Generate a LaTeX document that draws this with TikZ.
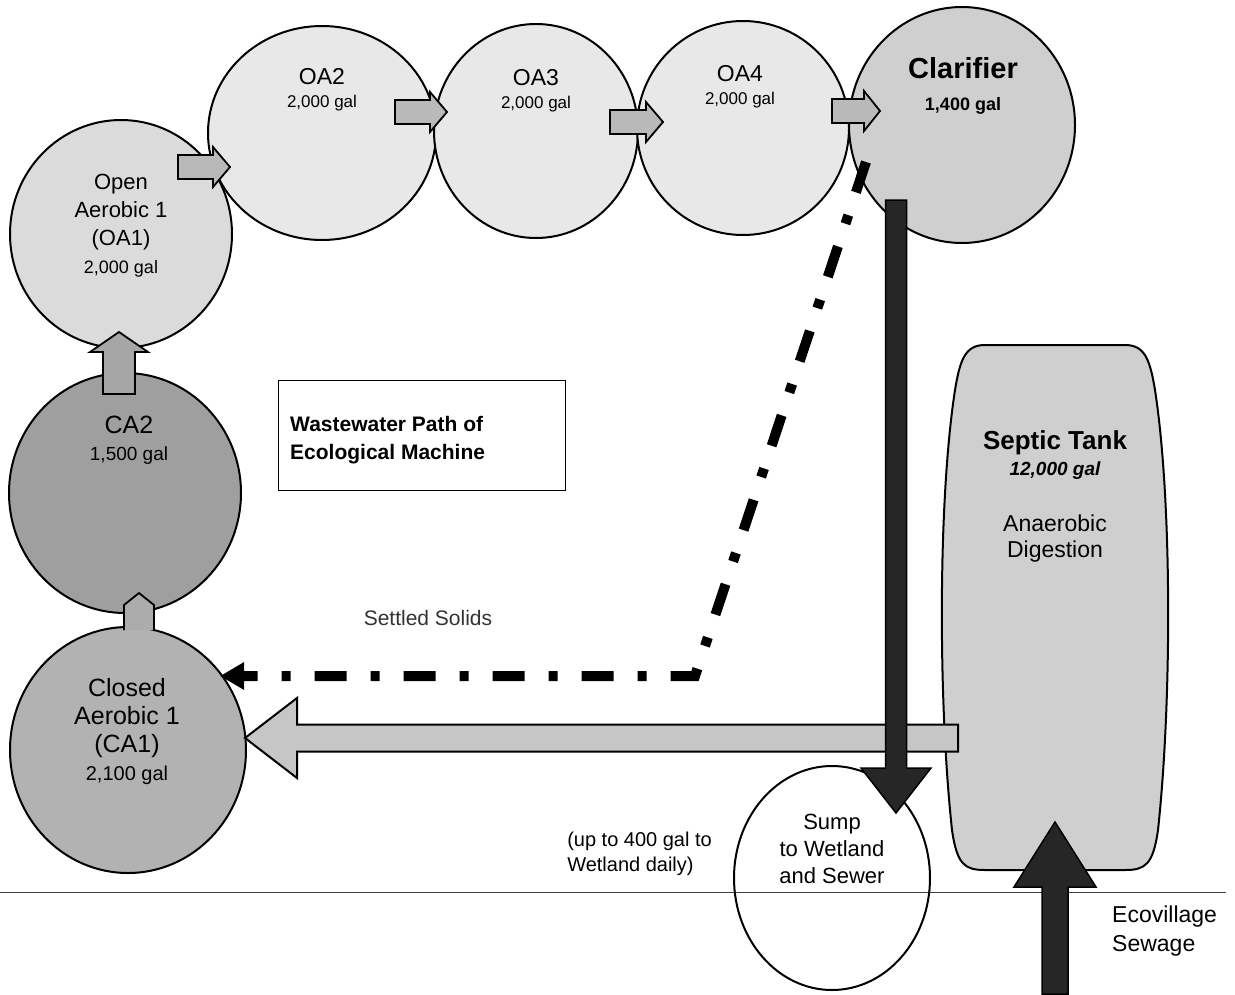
\documentclass[tikz,border=0pt]{standalone}
\usepackage{fontspec}
\setmainfont{Liberation Sans}
\usetikzlibrary{shapes.geometric,arrows.meta}
\newcommand\fs[1]{\fontsize{#1}{#1}\selectfont}
\newcommand\lh[1]{\fontsize{20}{#1}\selectfont}
% block arrow: #1 style, #2 start, #3 angle, #4 length, #5 shaft half width, #6 head half width, #7 head length
\newcommand\blockarrow[7]{\begin{scope}[shift={#2},rotate=#3]
\draw[#1] (0,-#5) -- ({#4-#7},-#5) -- ({#4-#7},-#6) -- (#4,0) -- ({#4-#7},#6) -- ({#4-#7},#5) -- (0,#5) -- cycle;
\end{scope}}
\begin{document}
\begin{tikzpicture}[x=1pt,y=-1pt,
  tank/.style={ellipse, draw, line width=2pt, inner sep=0pt},
  lbl/.style={align=center, inner sep=0pt},
  smallarrow/.style={draw, line width=1.8pt, fill=gray!55, line join=miter},
]
\useasboundingbox (0,0) rectangle (1235,994);
\fill[white] (0,0) rectangle (1235,994);

% ground line
\coordinate (gl) at (0,892);
\coordinate (gr) at (1226,892);
\draw[line width=0.9pt, black!75] (gl) -- (gr);

% tanks
\node[tank, fill=gray!18, minimum width=228pt, minimum height=214pt] (oa2) at (322,133) {};
\node[tank, fill=gray!18, minimum width=204pt, minimum height=214pt] (oa3) at (536,131) {};
\node[tank, fill=gray!18, minimum width=212pt, minimum height=214pt] (oa4) at (743,128) {};
\node[tank, fill=gray!38, minimum width=226pt, minimum height=236pt] (clar) at (962,125) {};
\node[tank, fill=gray!28, minimum width=222pt, minimum height=228pt] (oa1) at (121,234) {};
\node[tank, fill=gray!75, minimum width=232pt, minimum height=240pt] (ca2) at (125,493) {};
\node[tank, fill=gray!60, minimum width=236pt, minimum height=246pt] (ca1) at (128,750) {};
\node[tank, minimum width=196pt, minimum height=224pt] (sump) at (832,878) {};

% septic tank
\draw[line width=2pt, fill=gray!38] (985,345) -- (1125,345)
  .. controls (1145,345) and (1150,360) .. (1155,390)
  .. controls (1172,500) and (1172,700) .. (1158,830)
  .. controls (1153,865) and (1145,870) .. (1125,870) -- (985,870)
  .. controls (965,870) and (957,865) .. (952,830)
  .. controls (938,700) and (938,500) .. (955,390)
  .. controls (960,360) and (965,345) .. (985,345) -- cycle;
\coordinate (septic) at (1055,607);

% small arrows in top row
\blockarrow{smallarrow}{(178,167)}{0}{52}{12}{20}{17}
\blockarrow{smallarrow}{(395,112)}{0}{52}{12}{20}{17}
\blockarrow{smallarrow}{(610,122)}{0}{53}{12}{20}{17}
\blockarrow{smallarrow}{(832,111)}{0}{48}{12}{20}{16}

% CA2 -> OA1
\blockarrow{draw, line width=1.8pt, fill=gray!70}{(119,394)}{90}{62}{16}{29}{20}
% CA1 -> CA2 connector
\draw[line width=1.8pt, fill=gray!65] (124,630) -- (124,605) -- (139,593) -- (154,605) -- (154,630);

% settled solids (dash-dot)
\coordinate (ss1) at (866,162);
\coordinate (ss2) at (695,676);
\coordinate (ss3) at (220,676);
\draw[line width=10pt, dash pattern=on 32pt off 24pt on 9pt off 24pt,
  -{Triangle[length=24pt,width=26pt]}] (ss1) -- (ss2) -- (ss3);

% septic -> CA1
\blockarrow{draw, line width=2pt, fill=gray!45}{(958,738)}{180}{713}{13.5}{40}{52}
% clarifier -> sump
\blockarrow{draw, line width=1.5pt, fill=black!85}{(896,200)}{-90}{613}{10.5}{35}{45}
% ecovillage sewage -> septic
\blockarrow{draw, line width=1.5pt, fill=black!85}{(1055,994)}{90}{172}{13}{41}{65}

% texts
\node[lbl, font=\lh{28}] (t_oa1) at (121,226) {\fs{22}Open\\\fs{22}Aerobic 1\\\fs{22}(OA1)\\\fs{18}2,000 gal};
\node[lbl, font=\lh{23}] (t_oa2) at (322,90) {\fs{23}OA2\\\fs{17}2,000 gal};
\node[lbl, font=\lh{23}] (t_oa3) at (536,91) {\fs{23}OA3\\\fs{17}2,000 gal};
\node[lbl, font=\lh{23}] (t_oa4) at (740,87) {\fs{23}OA4\\\fs{17}2,000 gal};
\node[lbl, font=\lh{32}] (t_clar) at (963,86) {\fs{29}\bfseries Clarifier\\\fs{18}\bfseries 1,400 gal};
\node[lbl, font=\lh{27}] (t_ca2) at (129,440) {\fs{25}CA2\\\fs{19}1,500 gal};
\node[lbl, font=\lh{28}] (t_ca1) at (127,732) {\fs{25}Closed\\\fs{25}Aerobic 1\\\fs{25}(CA1)\\\fs{20}2,100 gal};
\node[lbl, font=\lh{26}] (t_sep) at (1055,496) {\fs{26}\bfseries Septic Tank\\\fs{19}\bfseries\itshape 12,000 gal\\[30pt]\fs{23}Anaerobic\\\fs{23}Digestion};
\node[lbl, font=\lh{27}] (t_sump) at (832,849) {\fs{22}Sump\\\fs{22}to Wetland\\\fs{22}and Sewer};
\node[lbl, font=\lh{25}, align=left, anchor=east] (t_wet) at (712,854) {\fs{20}(up to 400 gal to\\\fs{20}Wetland daily)};
\node[lbl, font=\lh{29}, align=left, anchor=west] (t_eco) at (1112,931) {\fs{23}Ecovillage\\\fs{23}Sewage};
\node[lbl, text=black!80] (t_ss) at (428,618) {\fs{21}Settled Solids};

% title box
\node[draw, line width=0.8pt, minimum width=287pt, minimum height=110pt, inner sep=0pt] (box) at (421.5,435) {};
\node[lbl, font=\lh{28}, align=left, anchor=west] (t_box) at (290,440) {\fs{21}\bfseries Wastewater Path of\\\fs{21}\bfseries Ecological Machine};
\end{tikzpicture}
\end{document}
